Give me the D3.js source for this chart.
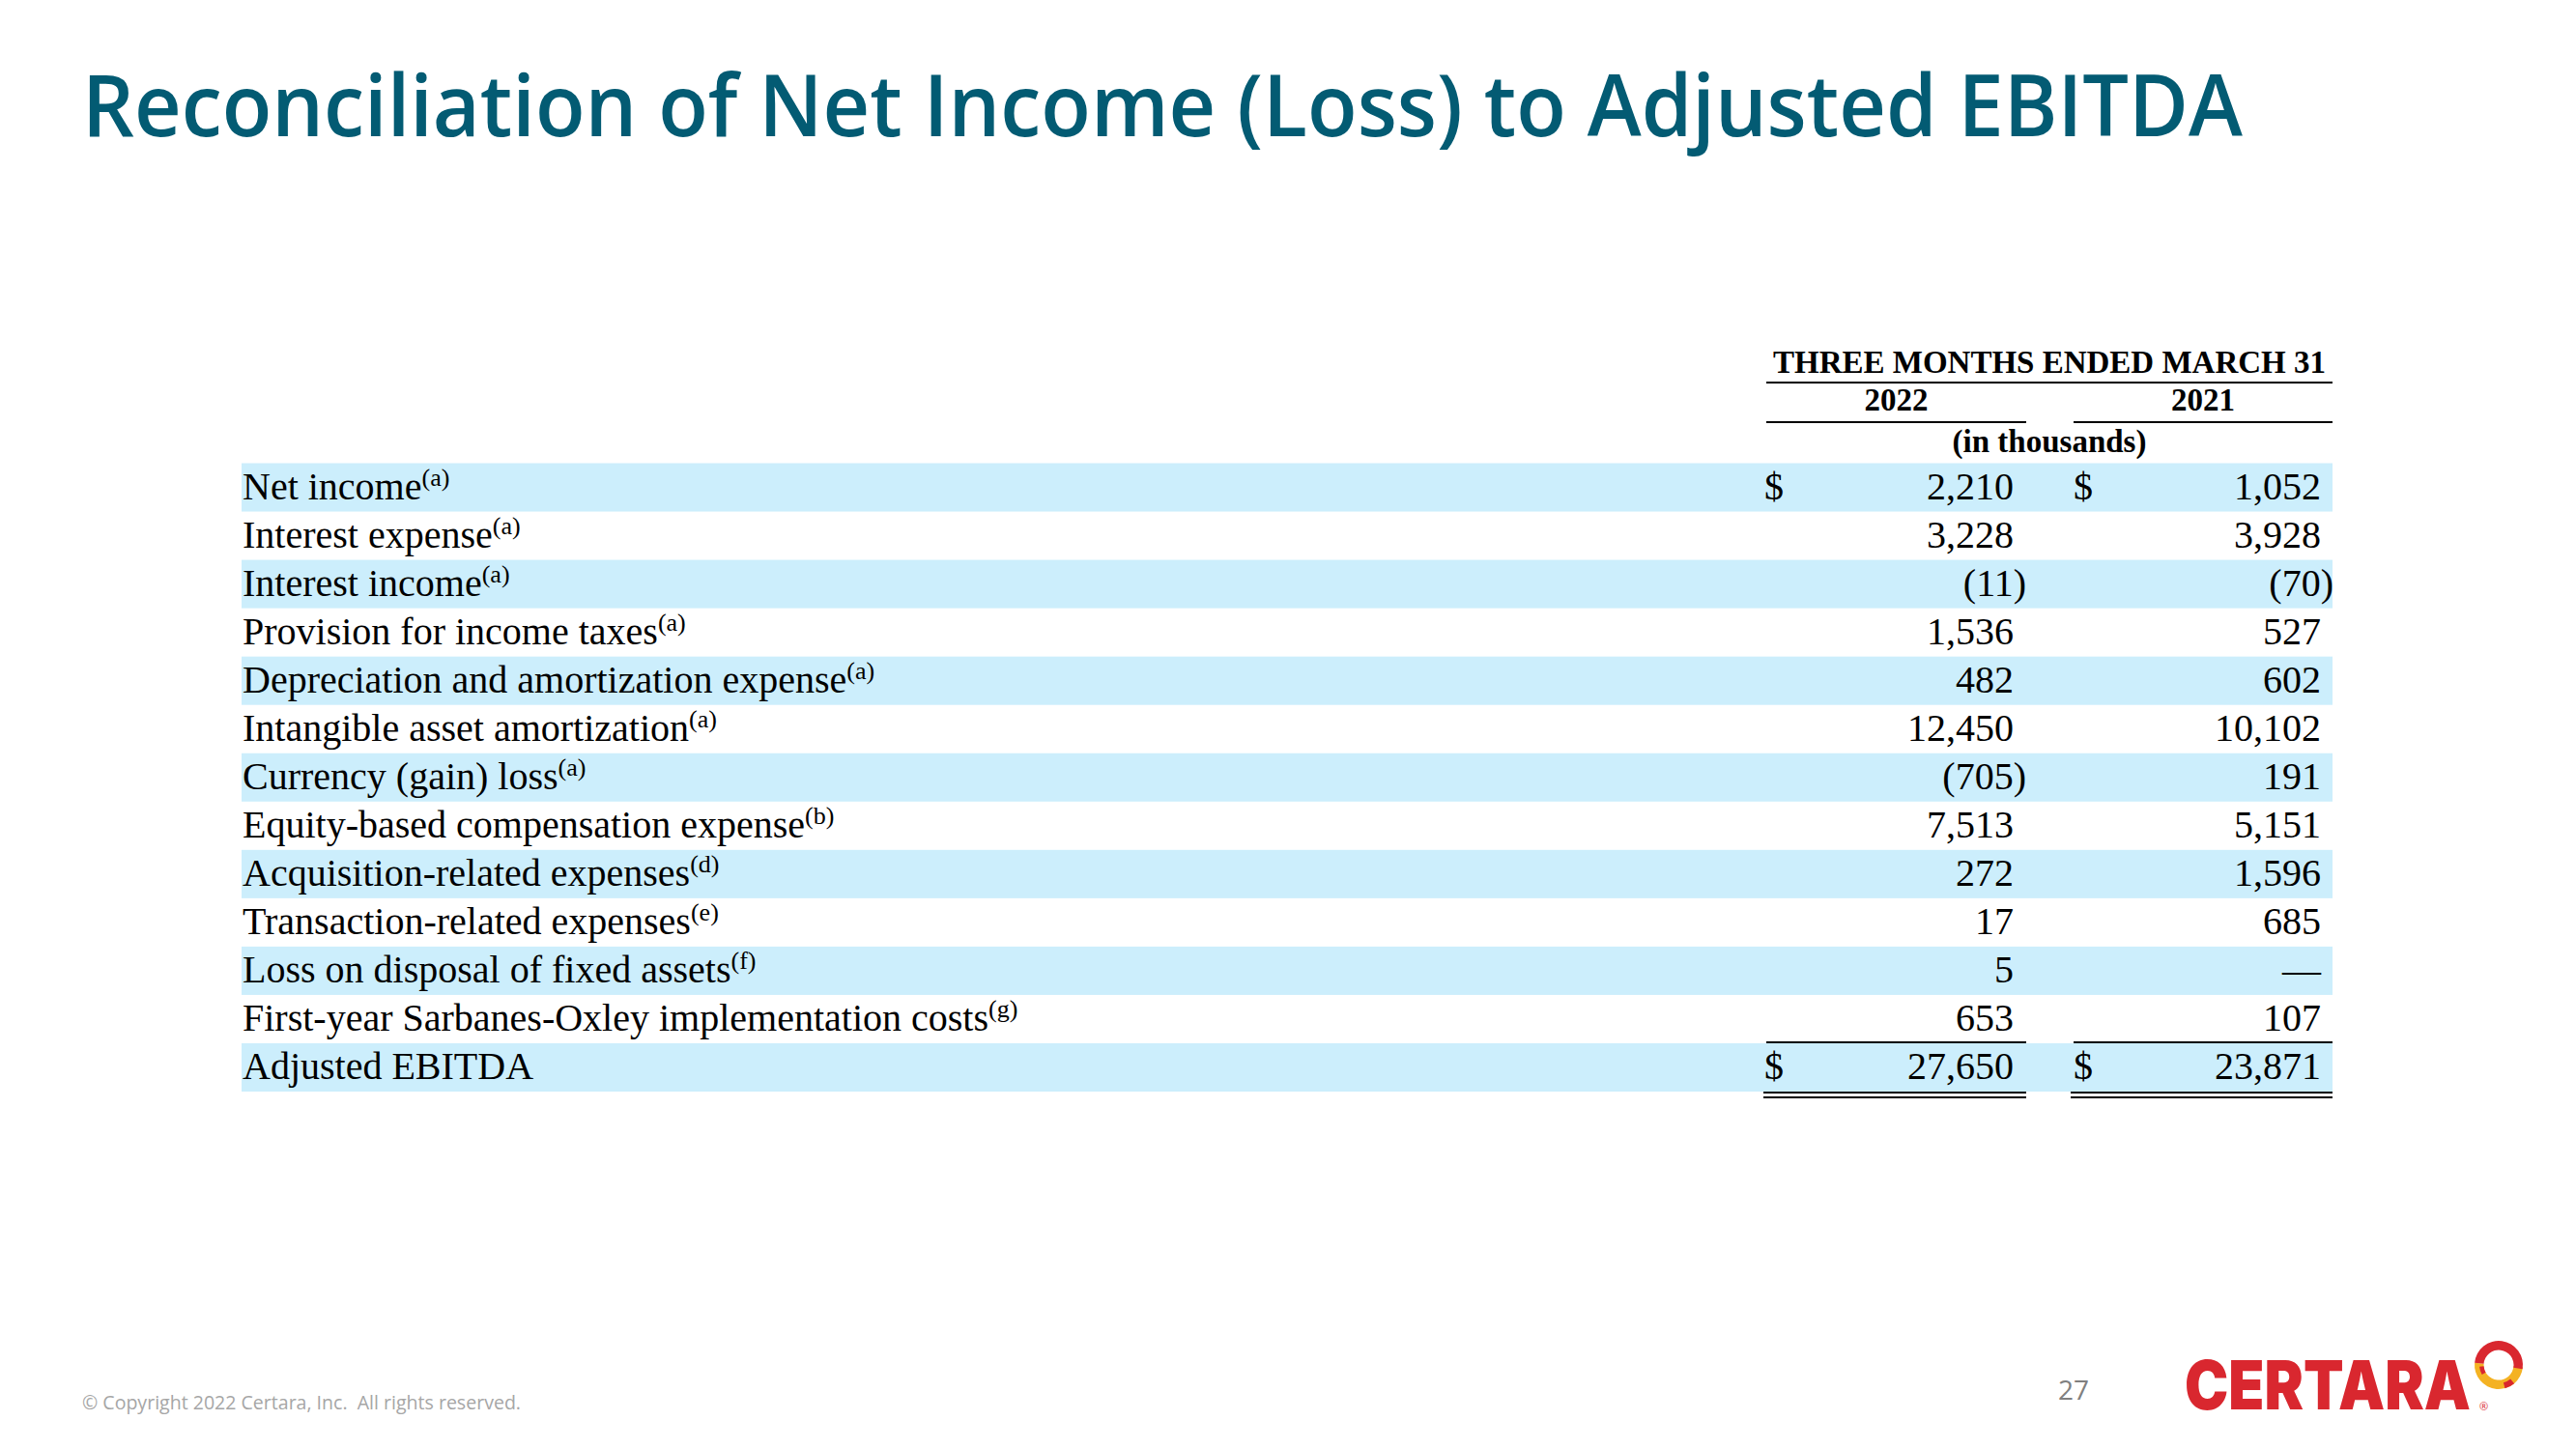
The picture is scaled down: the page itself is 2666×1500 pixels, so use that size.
<!DOCTYPE html>
<html>
<head>
<meta charset="utf-8">
<script src="https://cdn.jsdelivr.net/npm/d3@7"></script>
<style>
  html, body { margin: 0; padding: 0; background: #ffffff; }
  svg { display: block; }
</style>
</head>
<body>
<div id="chart"></div>
<script>
// ---------- data ----------
const titleText = "Reconciliation of Net Income (Loss) to Adjusted EBITDA";
const periodHeader = "THREE MONTHS ENDED MARCH 31";
const years = ["2022", "2021"];
const unitsLabel = "(in thousands)";
const labels = [
  "Net income",
  "Interest expense",
  "Interest income",
  "Provision for income taxes",
  "Depreciation and amortization expense",
  "Intangible asset amortization",
  "Currency (gain) loss",
  "Equity-based compensation expense",
  "Acquisition-related expenses",
  "Transaction-related expenses",
  "Loss on disposal of fixed assets",
  "First-year Sarbanes-Oxley implementation costs",
  "Adjusted EBITDA"
];
const notes = ["a", "a", "a", "a", "a", "a", "a", "b", "d", "e", "f", "g", ""];
const values2022 = [2210, 3228, -11, 1536, 482, 12450, -705, 7513, 272, 17, 5, 653, 27650];
const values2021 = [1052, 3928, -70, 527, 602, 10102, 191, 5151, 1596, 685, null, 107, 23871];
const dollarRows = [0, 12];
const totalRow = 12;
const footerText = "\u00A9 Copyright 2022 Certara, Inc.  All rights reserved.";
const pageNumber = "27";
const logoText = "CERTARA";

// ---------- layout ----------
const W = 2666, H = 1500;
const svg = d3.select("#chart").append("svg")
  .attr("width", W).attr("height", H)
  .attr("viewBox", `0 0 ${W} ${H}`);
svg.append("rect").attr("width", W).attr("height", H).attr("fill", "#ffffff");

const serif = "'Liberation Serif', 'Times New Roman', serif";
const sans = "'Open Sans', 'Noto Sans', sans-serif";

function fit(sel, width) {
  sel.attr("textLength", width).attr("lengthAdjust", "spacingAndGlyphs");
}
// horizontal scaling via transform so the real box matches the drawn glyphs
function squeeze(sel, x, yb, width) {
  const w = sel.node().getComputedTextLength();
  sel.attr("x", 0).attr("y", 0)
    .attr("transform", `translate(${x},${yb}) scale(${width / w},1)`);
}

// Title
svg.append("text")
  .attr("x", 85).attr("y", 141)
  .attr("font-family", sans).attr("font-weight", 600)
  .attr("font-size", 88).attr("fill", "#035b73")
  .text(titleText)
  .call(fit, 2236);

// Row scale
const rowIdx = d3.range(labels.length);
const y = d3.scaleBand().domain(rowIdx).range([479.5, 1130]).padding(0);
const bandLeft = 250, bandRight = 2414;

// Column scales
const numRight = d3.scaleOrdinal().domain(years).range([2084, 2402]);
const dollarX = d3.scaleOrdinal().domain(years).range([1826, 2146]);
const colLeft = d3.scaleOrdinal().domain(years).range([1828, 2146]);
const colRight = d3.scaleOrdinal().domain(years).range([2097, 2414]);

// Bands
svg.append("g").selectAll("rect")
  .data(rowIdx.filter(i => i % 2 === 0))
  .join("rect")
  .attr("x", bandLeft).attr("y", i => y(i))
  .attr("width", bandRight - bandLeft).attr("height", y.bandwidth())
  .attr("fill", "#cceefc");

// Header
const hdr = svg.append("g").attr("font-family", serif).attr("font-weight", "bold")
  .attr("font-size", 33).attr("fill", "#000");
const hdrCenter = (colLeft("2022") + colRight("2021")) / 2;
hdr.append("text").attr("x", hdrCenter).attr("y", 386).attr("text-anchor", "middle").text(periodHeader);
svg.append("line").attr("x1", colLeft("2022")).attr("x2", colRight("2021"))
  .attr("y1", 396).attr("y2", 396).attr("stroke", "#000").attr("stroke-width", 2);
hdr.selectAll("text.yr").data(years).join("text").attr("class", "yr")
  .attr("x", d => (colLeft(d) + colRight(d)) / 2).attr("y", 425)
  .attr("text-anchor", "middle").text(d => d);
svg.selectAll("line.yr").data(years).join("line").attr("class", "yr")
  .attr("x1", d => colLeft(d)).attr("x2", d => colRight(d))
  .attr("y1", 437).attr("y2", 437).attr("stroke", "#000").attr("stroke-width", 2);
hdr.append("text").attr("x", hdrCenter).attr("y", 468).attr("text-anchor", "middle").text(unitsLabel);

// Row labels
const body = svg.append("g").attr("font-family", serif).attr("font-size", 40).attr("fill", "#000");
const lab = body.selectAll("text.lab").data(rowIdx).join("text").attr("class", "lab")
  .attr("x", 251).attr("y", i => y(i) + 37);
lab.append("tspan").text(i => labels[i]);
lab.filter(i => notes[i]).append("tspan")
  .attr("font-size", 26).attr("dy", -14)
  .text(i => `(${notes[i]})`);

// Values
const fmt = d3.format(",");
const series = { "2022": values2022, "2021": values2021 };
years.forEach(yr => {
  const vals = series[yr];
  body.selectAll(`text.v${yr}`).data(rowIdx).join("text").attr("class", `v${yr}`)
    .attr("x", i => vals[i] != null && vals[i] < 0 ? numRight(yr) + 13 : numRight(yr))
    .attr("y", i => y(i) + 37)
    .attr("text-anchor", "end")
    .text(i => vals[i] == null ? "\u2014" : (vals[i] < 0 ? `(${fmt(-vals[i])})` : fmt(vals[i])));
  body.selectAll(`text.d${yr}`).data(dollarRows).join("text").attr("class", `d${yr}`)
    .attr("x", dollarX(yr)).attr("y", i => y(i) + 37).text("$");
  // total rules
  const top = y(totalRow) - 1;
  const bot = y(totalRow) + y.bandwidth() + 1;
  svg.append("line").attr("x1", colLeft(yr)).attr("x2", colRight(yr))
    .attr("y1", top).attr("y2", top).attr("stroke", "#000").attr("stroke-width", 2);
  [bot, bot + 5].forEach(yy => svg.append("line")
    .attr("x1", colLeft(yr) - 3).attr("x2", colRight(yr))
    .attr("y1", yy).attr("y2", yy).attr("stroke", "#000").attr("stroke-width", 2));
});

// Footer
svg.append("text").attr("x", 85).attr("y", 1459)
  .attr("font-family", sans).attr("font-size", 20).attr("fill", "#a6a6a6")
  .attr("xml:space", "preserve")
  .text(footerText).call(fit, 454);
svg.append("text").attr("x", 2130).attr("y", 1449)
  .attr("font-family", sans).attr("font-size", 28).attr("fill", "#808080")
  .text(pageNumber);

// Logo
svg.append("text")
  .attr("font-family", "Inter, 'Noto Sans', sans-serif").attr("font-weight", 900)
  .attr("font-size", 70).attr("fill", "#d9272f")
  .text(logoText).call(squeeze, 2261, 1459, 296);
const ring = svg.append("g").attr("transform", "translate(2586,1413)");
const arc = d3.arc().innerRadius(15.5).outerRadius(25);
const deg = Math.PI / 180;
ring.append("path").attr("d", arc({ startAngle: 95 * deg, endAngle: 275 * deg })).attr("fill", "#f4b223");
ring.append("path").attr("d", arc({ startAngle: -85 * deg, endAngle: 100 * deg })).attr("fill", "#d9272f");
ring.append("path").attr("d", d3.arc().innerRadius(19).outerRadius(25)({ startAngle: 140 * deg, endAngle: 165 * deg })).attr("fill", "#d9272f");
ring.append("path").attr("d", d3.arc().innerRadius(15.5).outerRadius(20)({ startAngle: 240 * deg, endAngle: 265 * deg })).attr("fill", "#d9272f");
svg.append("text").attr("x", 2566).attr("y", 1460)
  .attr("font-family", sans).attr("font-size", 11).attr("fill", "#d9272f").text("\u00AE");
</script>
</body>
</html>
